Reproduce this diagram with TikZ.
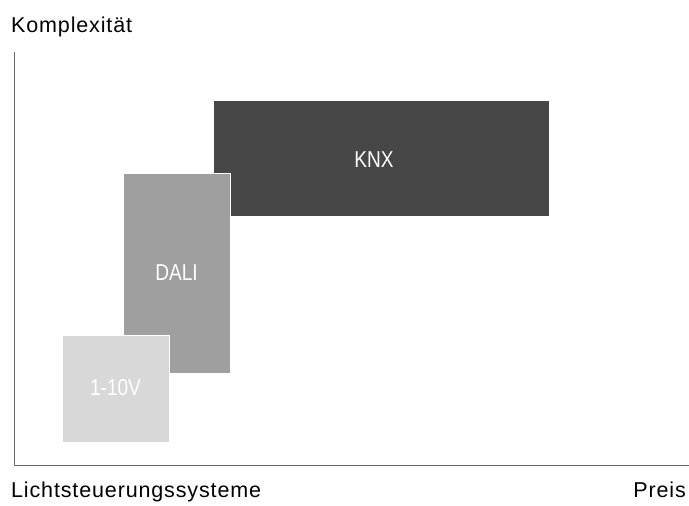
\documentclass[tikz,border=0pt]{standalone}
\usepackage{fontspec}
\setmainfont{Liberation Sans}
\newfontfamily\axisfont[LetterSpace=4]{Liberation Sans}
\newfontfamily\boxfont[FakeStretch=0.83]{Liberation Sans}
\definecolor{knxc}{HTML}{474747}
\definecolor{dalic}{HTML}{9F9F9F}
\definecolor{tenc}{HTML}{D8D8D8}
\definecolor{axisc}{HTML}{666666}
\tikzset{
  sysbox/.style={draw=white, line width=0.8pt, inner sep=0pt, outer sep=0pt},
  boxlabel/.style={text=white, font=\boxfont\fontsize{23}{26}\selectfont, inner sep=0pt},
  axislabel/.style={font=\axisfont\fontsize{21.5}{24}\selectfont, inner sep=0pt, text=black},
  axisline/.style={draw=axisc, line width=1pt}
}
\begin{document}
\begin{tikzpicture}[x=1pt,y=-1pt]
\useasboundingbox (0,0) rectangle (689,506);
% boxes
\fill[knxc] (214,101) rectangle (549,216);
\node[boxlabel] (knx) at (374,160) {KNX};
\filldraw[dalic, sysbox] (123,173) rectangle (230,373);
\node[boxlabel] (dali) at (176.5,273) {DALI};
\filldraw[tenc, sysbox] (62,335) rectangle (169,442);
\node[boxlabel] (ten) at (115.5,388) {1-10V};
% axes
\coordinate (top) at (14,52);
\coordinate (origin) at (14,465);
\coordinate (right) at (689,465);
\draw[axisline] (top) -- (origin) -- (right);
% labels
\node[axislabel, anchor=base west] (yl) at (11,32) {Komplexität};
\node[axislabel, anchor=base west] (xl) at (11,497) {Lichtsteuerungssysteme};
\node[axislabel, anchor=base east] (pl) at (686,497) {Preis};
\end{tikzpicture}
\end{document}
